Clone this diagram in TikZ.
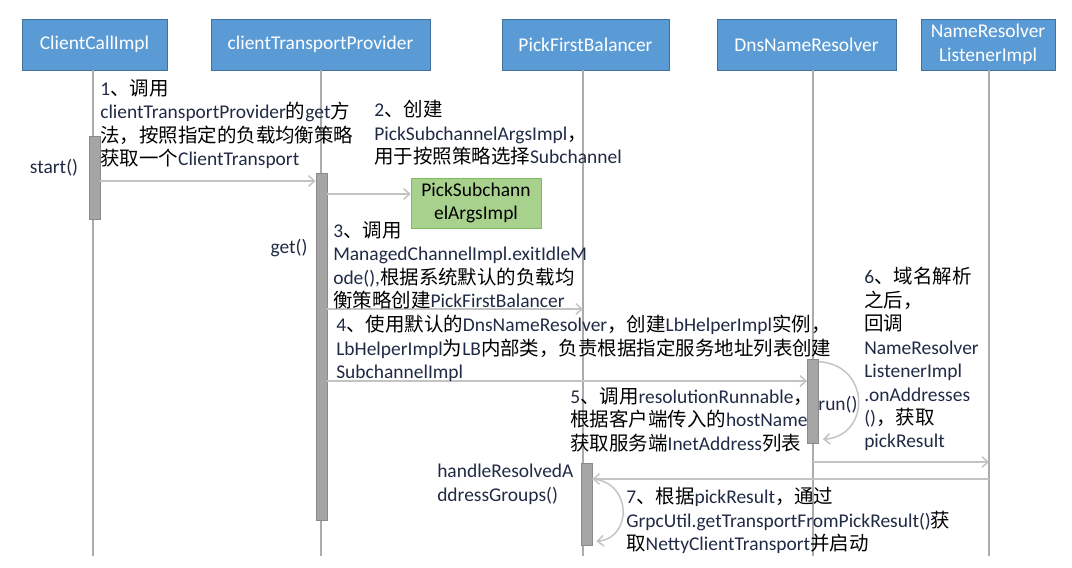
\documentclass[tikz,border=0pt]{standalone}
\usepackage{fontspec}
\setmainfont{Carlito}
\newfontfamily\cjkfont{Noto Sans CJK SC}
\usepackage{tikz}
\usetikzlibrary{arrows.meta,positioning}
\definecolor{headblue}{HTML}{5B9BD5}
\definecolor{headedge}{HTML}{41719C}
\definecolor{argsgreen}{HTML}{A9D18E}
\definecolor{argsedge}{HTML}{7FBA5E}
\definecolor{barfill}{HTML}{A5A5A5}
\definecolor{baredge}{HTML}{8A8A8A}
\definecolor{lifegrey}{HTML}{ABABAB}
\definecolor{msggrey}{HTML}{C3C3C3}
\definecolor{latinink}{HTML}{1F2A44}
\newcommand{\zh}[1]{{\cjkfont\color{black}#1}}

\begin{document}
\begin{tikzpicture}[x=0.75pt,y=-0.75pt,font=\fontsize{14.6}{17.6}\selectfont,
  head/.style={draw=headedge,fill=headblue,text=white,minimum height=38.25pt,
    inner sep=0pt,align=center},
  bar/.style={draw=baredge,fill=barfill,minimum width=8.5pt,inner sep=0pt},
  life/.style={lifegrey,line width=0.8pt},
  msg/.style={msggrey,line width=1.1pt,-{Straight Barb[length=4.5pt,width=8pt]}},
  note/.style={align=left,anchor=north west,inner sep=0pt,text=latinink}]
  \useasboundingbox (0,0) rectangle (1072,568);
  % lifeline heads
  \node[head,minimum width=108.75pt] (cci) at (94.5,44.5) {ClientCallImpl};
  \node[head,minimum width=164.25pt] (ctp) at (320.5,44.5) {clientTransportProvider};
  \node[head,minimum width=125.25pt] (pfb) at (585.5,44.5) {PickFirstBalancer};
  \node[head,minimum width=134.25pt] (dns) at (806.5,44.5) {DnsNameResolver};
  \node[head,minimum width=100.5pt] (nrl) at (988,44.5) {NameResolver\\ListenerImpl};
  % lifelines
  \coordinate (cciend) at (93,556);
  \coordinate (ctpend) at (321,556);
  \coordinate (pfbend) at (583,556);
  \coordinate (dnsend) at (813,556);
  \coordinate (nrlend) at (989,556);
  \foreach \l in {cci,ctp,pfb,dns,nrl}
    \draw[life] (\l.south -| \l end) -- (\l end);
  % activations
  \node[bar,minimum height=62.25pt] (ccibar) at (94.5,177.5) {};
  \node[bar,minimum height=260.25pt] (ctpbar) at (321.5,346.5) {};
  \node[bar,minimum height=63pt] (dnsbar) at (813,401) {};
  \node[bar,minimum height=61.5pt] (pfbbar) at (586.5,504) {};
  \node[draw=argsedge,fill=argsgreen,minimum width=97.5pt,minimum height=37.5pt,
    inner sep=0pt,align=center] (args) at (476,203) {PickSubchann\\elArgsImpl};
  % message rows
  \coordinate (r1) at (0,181);
  \coordinate (r2) at (0,194);
  \coordinate (r3) at (0,309);
  \coordinate (r4) at (0,381);
  \coordinate (r5) at (0,462);
  \coordinate (r6) at (0,479);
  \draw[msg] (ccibar.east |- r1) -- (ctpbar.west |- r1);
  \draw[msg] (ctpbar.east |- r2) -- (args.west |- r2);
  \draw[msg] (ctpbar.east |- r3) -- (pfbend |- r3);
  \draw[msg] (ctpbar.east |- r4) -- (dnsbar.west |- r4);
  \draw[msg] (dnsend |- r5) -- (nrlend |- r5);
  \draw[msg] (nrlend |- r6) -- (pfbbar.east |- r6);
  % self calls
  \draw[msg] ([yshift=-2.25pt]dnsbar.north east) .. controls +(52,3) and +(48,-3)
    .. ([xshift=3pt,yshift=3pt]dnsbar.south east);
  \draw[msg] (pfbbar.east |- r6) .. controls +(40,3) and +(36,-3)
    .. ([xshift=3pt,yshift=3pt]pfbbar.south east);
  % labels
  \node[text=latinink] (startlbl) at (54,168) {start()};
  \node[text=latinink] (getlbl) at (289,248) {get()};
  \node[text=latinink] (runlbl) at (838,405) {run()};
  \node[note] (t1) at (100,79) {1\zh{、调用}\\clientTransportProvider\zh{的}get\zh{方}\\
    \zh{法，按照指定的负载均衡策略}\\\zh{获取一个}ClientTransport};
  \node[note] (t2) at (374,100) {2\zh{、创建}\\PickSubchannelArgsImpl\zh{，}\\
    \zh{用于按照策略选择}Subchannel};
  \node[note] (t3) at (333,221) {3\zh{、调用}\\ManagedChannelImpl.exitIdleM\\
    ode(),\zh{根据系统默认的负载均}\\\zh{衡策略创建}PickFirstBalancer};
  \node[note] (t4) at (336,315) {4\zh{、使用默认的}DnsNameResolver\zh{，创建}LbHelperImpl\zh{实例，}\\
    LbHelperImpl\zh{为}LB\zh{内部类，负责根据指定服务地址列表创建}\\SubchannelImpl};
  \node[note] (t5) at (570,387) {5\zh{、调用}resolutionRunnable\zh{，}\\
    \zh{根据客户端传入的}hostName\\\zh{获取服务端}InetAddress\zh{列表}};
  \node[note] (t6) at (864,267) {6\zh{、域名解析}\\\zh{之后，}\\\zh{回调}\\NameResolver\\
    ListenerImpl\\.onAddresses\\()\zh{，获取}\\pickResult};
  \node[note] (t7) at (437,464) {handleResolvedA\\ddressGroups()};
  \node[note] (t8) at (626,487) {7\zh{、根据}pickResult\zh{，通过}\\
    GrpcUtil.getTransportFromPickResult()\zh{获}\\\zh{取}NettyClientTransport\zh{并启动}};
\end{tikzpicture}
\end{document}
